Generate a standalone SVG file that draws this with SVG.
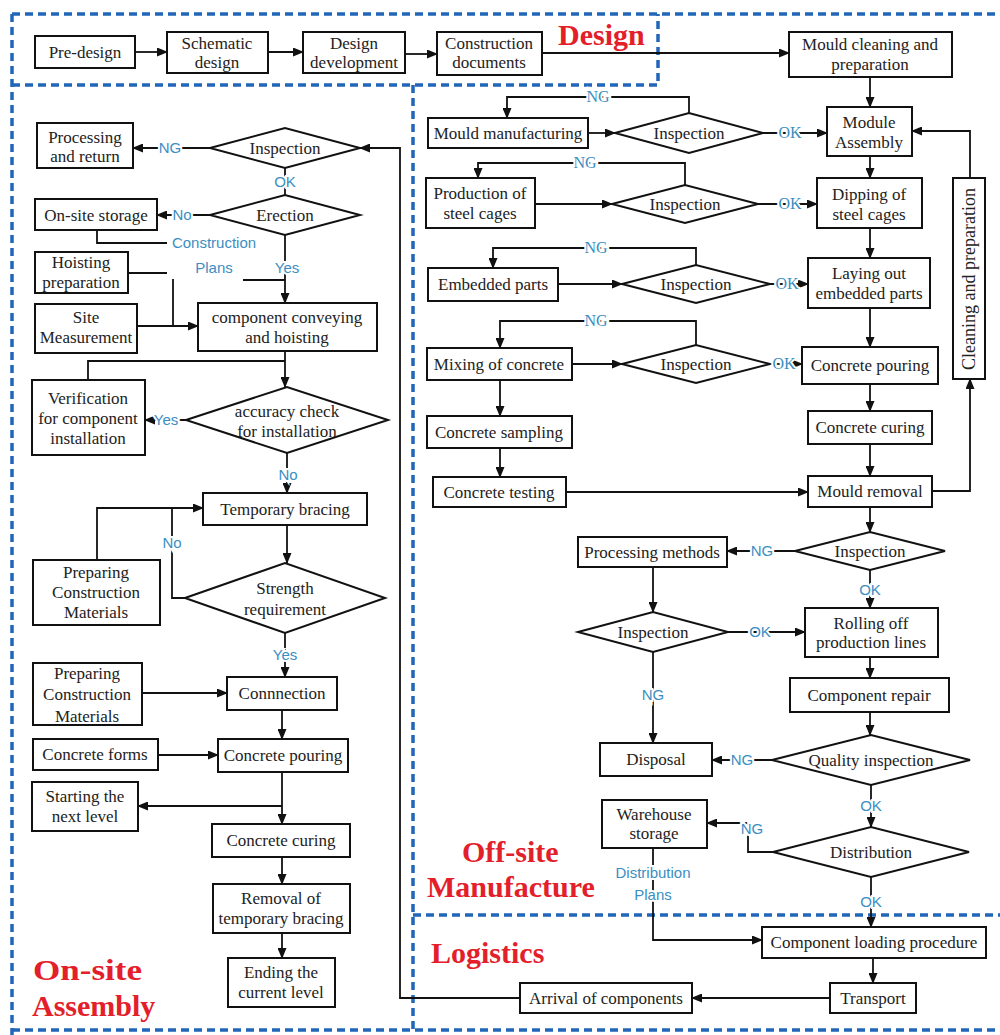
<svg xmlns="http://www.w3.org/2000/svg" width="1000" height="1035" viewBox="0 0 1000 1035">
<style>
.n rect, .n polygon { fill: #fff; stroke: #111; stroke-width: 2; }
.n text { font-family: "Liberation Serif", "Times New Roman", serif; font-size: 17px; fill: #222; text-anchor: middle; }
.c path { fill: none; stroke: #111; stroke-width: 1.8; }
.lbl { font-family: "Liberation Sans", Arial, sans-serif; font-size: 15px; fill: #3b8ec2; text-anchor: middle; paint-order: stroke; stroke: #fff; stroke-width: 4px; }
.lbs { font-family: "Liberation Serif", "Times New Roman", serif; font-size: 16px; fill: #3b8ec2; text-anchor: middle; paint-order: stroke; stroke: #fff; stroke-width: 4px; }
.zone { fill: none; stroke: #2166b8; stroke-width: 3.5; stroke-dasharray: 8 5; }
.title { font-family: "Liberation Serif", "Times New Roman", serif; font-size: 30px; font-weight: bold; fill: #e3202a; }
</style>
<defs>
<marker id="ah" markerUnits="userSpaceOnUse" markerWidth="11" markerHeight="9" refX="10" refY="4.5" orient="auto">
<path d="M0,0 L11,4.5 L0,9 z" fill="#111"/>
</marker>
</defs>
<rect x="0" y="0" width="1000" height="1035" fill="#fff"/>

<g id="zones">
<path class="zone" d="M12,14 H1000"/>
<path class="zone" d="M12,14 V1035"/>
<path class="zone" d="M12,85 H658 V14"/>
<path class="zone" d="M413,85 V1030"/>
<path class="zone" d="M413,915 H1000"/>
<path class="zone" d="M12,1030 H1000"/>
<text class="title" x="558" y="45">Design</text>
<text class="title" x="33" y="980" textLength="109" lengthAdjust="spacingAndGlyphs">On-site</text>
<text class="title" x="32" y="1016">Assembly</text>
<text class="title" x="462" y="862">Off-site</text>
<text class="title" x="427" y="897">Manufacture</text>
<text class="title" x="431" y="963">Logistics</text>
</g>

<g id="connectors" class="c">
<path d="M135,52 H167" marker-end="url(#ah)"/>
<path d="M268,52 H303" marker-end="url(#ah)"/>
<path d="M405,54 H437" marker-end="url(#ah)"/>
<path d="M542,53 H789" marker-end="url(#ah)"/>
<path d="M870,77 V107" marker-end="url(#ah)"/>
<path d="M870,156 V178" marker-end="url(#ah)"/>
<path d="M870,228 V258" marker-end="url(#ah)"/>
<path d="M870,308 V347" marker-end="url(#ah)"/>
<path d="M870,384 V411" marker-end="url(#ah)"/>
<path d="M870,444 V476" marker-end="url(#ah)"/>
<path d="M870,507 V532" marker-end="url(#ah)"/>
<path d="M932,491 H970 V379" marker-end="url(#ah)"/>
<path d="M970,178 V131 H912" marker-end="url(#ah)"/>
<path d="M588,133 H615" marker-end="url(#ah)"/>
<path d="M689,113 V97 H507 V118" marker-end="url(#ah)"/>
<path d="M763,133 H827" marker-end="url(#ah)"/>
<path d="M535,204 H612" marker-end="url(#ah)"/>
<path d="M685,185 V163 H478 V178" marker-end="url(#ah)"/>
<path d="M758,204 H817" marker-end="url(#ah)"/>
<path d="M558,284 H622" marker-end="url(#ah)"/>
<path d="M696,265 V248 H493 V268" marker-end="url(#ah)"/>
<path d="M770,284 H808" marker-end="url(#ah)"/>
<path d="M572,364 H622" marker-end="url(#ah)"/>
<path d="M696,345 V321 H500 V348" marker-end="url(#ah)"/>
<path d="M770,364 H802" marker-end="url(#ah)"/>
<path d="M500,380 V416" marker-end="url(#ah)"/>
<path d="M500,448 V477" marker-end="url(#ah)"/>
<path d="M566,492 H808" marker-end="url(#ah)"/>
<path d="M795,551 H727" marker-end="url(#ah)"/>
<path d="M653,567 V612" marker-end="url(#ah)"/>
<path d="M870,570 V608" marker-end="url(#ah)"/>
<path d="M728,632 H805" marker-end="url(#ah)"/>
<path d="M870,657 V678" marker-end="url(#ah)"/>
<path d="M870,712 V735" marker-end="url(#ah)"/>
<path d="M653,652 V743" marker-end="url(#ah)"/>
<path d="M772,760 H712" marker-end="url(#ah)"/>
<path d="M871,785 V827" marker-end="url(#ah)"/>
<path d="M773,852 H748 V823 H707" marker-end="url(#ah)"/>
<path d="M871,877 V927" marker-end="url(#ah)"/>
<path d="M653,848 V940 H762" marker-end="url(#ah)"/>
<path d="M873,958 V983" marker-end="url(#ah)"/>
<path d="M830,998 H692" marker-end="url(#ah)"/>
<path d="M520,998 H400 V148 H360" marker-end="url(#ah)"/>
<path d="M210,148 H133" marker-end="url(#ah)"/>
<path d="M285,168 V195"/>
<path d="M210,215 H157" marker-end="url(#ah)"/>
<path d="M97,230 V243 H167"/>
<path d="M243,280 H285"/>
<path d="M285,235 V303" marker-end="url(#ah)"/>
<path d="M128,273 H167"/>
<path d="M173,279 V326"/>
<path d="M137,326 H198" marker-end="url(#ah)"/>
<path d="M285,351 V387" marker-end="url(#ah)"/>
<path d="M88,380 V361 H285"/>
<path d="M186,420 H145" marker-end="url(#ah)"/>
<path d="M287,453 V493" marker-end="url(#ah)"/>
<path d="M287,525 V563" marker-end="url(#ah)"/>
<path d="M185,598 H172 V508 H203" marker-end="url(#ah)"/>
<path d="M97,560 V508 H172"/>
<path d="M285,633 V677" marker-end="url(#ah)"/>
<path d="M142,693 H227" marker-end="url(#ah)"/>
<path d="M282,710 V739" marker-end="url(#ah)"/>
<path d="M158,755 H218" marker-end="url(#ah)"/>
<path d="M282,772 V824" marker-end="url(#ah)"/>
<path d="M282,806 H138" marker-end="url(#ah)"/>
<path d="M282,857 V884" marker-end="url(#ah)"/>
<path d="M282,933 V958" marker-end="url(#ah)"/>
</g>

<g id="labels">
<text class="lbl" x="170" y="153">NG</text>
<text class="lbl" x="285" y="187">OK</text>
<text class="lbl" x="182" y="220">No</text>
<text class="lbl" x="214" y="248">Construction</text>
<text class="lbl" x="214" y="273">Plans</text>
<text class="lbl" x="287" y="273">Yes</text>
<text class="lbl" x="166" y="425">Yes</text>
<text class="lbl" x="288" y="480">No</text>
<text class="lbl" x="172" y="548">No</text>
<text class="lbl" x="285" y="660">Yes</text>
<text class="lbs" x="598" y="102">NG</text>
<text class="lbs" x="790" y="138">OK</text>
<text class="lbs" x="585" y="168">NG</text>
<text class="lbs" x="790" y="209">OK</text>
<text class="lbs" x="596" y="253">NG</text>
<text class="lbs" x="787" y="289">OK</text>
<text class="lbs" x="596" y="326">NG</text>
<text class="lbs" x="784" y="369">OK</text>
<text class="lbl" x="762" y="556">NG</text>
<text class="lbl" x="870" y="595">OK</text>
<text class="lbl" x="760" y="637">OK</text>
<text class="lbl" x="653" y="700">NG</text>
<text class="lbl" x="742" y="765">NG</text>
<text class="lbl" x="871" y="811">OK</text>
<text class="lbl" x="752" y="834">NG</text>
<text class="lbl" x="653" y="878">Distribution</text>
<text class="lbl" x="653" y="900">Plans</text>
<text class="lbl" x="871" y="907">OK</text>
</g>

<g id="n-predesign" class="n"><rect x="35" y="36" width="100" height="32"/><text x="85" y="58">Pre-design</text></g>
<g id="n-schematic" class="n"><rect x="167" y="32" width="101" height="41"/><text x="217" y="49">Schematic</text><text x="217" y="68">design</text></g>
<g id="n-designdev" class="n"><rect x="303" y="32" width="102" height="41"/><text x="354" y="49">Design</text><text x="354" y="68">development</text></g>
<g id="n-constdocs" class="n"><rect x="437" y="32" width="105" height="43"/><text x="489" y="49">Construction</text><text x="489" y="68">documents</text></g>
<g id="n-mouldclean" class="n"><rect x="789" y="32" width="163" height="45"/><text x="870" y="50">Mould cleaning and</text><text x="870" y="70">preparation</text></g>

<g id="n-moduleasm" class="n"><rect x="827" y="107" width="85" height="49"/><text x="869" y="128">Module</text><text x="869" y="148">Assembly</text></g>
<g id="n-dipping" class="n"><rect x="817" y="178" width="105" height="50"/><text x="869" y="200">Dipping of</text><text x="869" y="220">steel cages</text></g>
<g id="n-laying" class="n"><rect x="808" y="258" width="122" height="50"/><text x="869" y="279">Laying out</text><text x="869" y="299">embedded parts</text></g>
<g id="n-cpour-off" class="n"><rect x="802" y="347" width="136" height="37"/><text x="870" y="371">Concrete pouring</text></g>
<g id="n-ccure-off" class="n"><rect x="808" y="411" width="124" height="33"/><text x="870" y="433">Concrete curing</text></g>
<g id="n-mouldrem" class="n"><rect x="808" y="476" width="124" height="31"/><text x="870" y="497">Mould removal</text></g>
<g id="n-cleanprep" class="n"><rect x="953" y="178" width="32" height="201"/><text x="969" y="285" transform="rotate(-90 969 279)" style="font-size:18px">Cleaning and preparation</text></g>

<g id="n-mouldmfg" class="n"><rect x="428" y="118" width="160" height="30"/><text x="508" y="139">Mould manufacturing</text></g>
<g id="n-insp1" class="n"><polygon points="615,133 689,113 763,133 689,153"/><text x="689" y="139">Inspection</text></g>
<g id="n-steelcage" class="n"><rect x="426" y="178" width="109" height="50"/><text x="480" y="199">Production of</text><text x="480" y="219">steel cages</text></g>
<g id="n-insp2" class="n"><polygon points="612,204 685,185 758,204 685,223"/><text x="685" y="210">Inspection</text></g>
<g id="n-embedded" class="n"><rect x="428" y="268" width="130" height="33"/><text x="493" y="290">Embedded parts</text></g>
<g id="n-insp3" class="n"><polygon points="622,284 696,265 770,284 696,303"/><text x="696" y="290">Inspection</text></g>
<g id="n-mixing" class="n"><rect x="427" y="348" width="145" height="32"/><text x="499" y="370">Mixing of concrete</text></g>
<g id="n-insp4" class="n"><polygon points="622,364 696,345 770,364 696,383"/><text x="696" y="370">Inspection</text></g>
<g id="n-sampling" class="n"><rect x="427" y="416" width="145" height="32"/><text x="499" y="438">Concrete sampling</text></g>
<g id="n-testing" class="n"><rect x="433" y="477" width="133" height="30"/><text x="499" y="498">Concrete testing</text></g>

<g id="n-insp5" class="n"><polygon points="795,551 870,532 945,551 870,570"/><text x="870" y="557">Inspection</text></g>
<g id="n-procmethods" class="n"><rect x="578" y="537" width="149" height="30"/><text x="652" y="558">Processing methods</text></g>
<g id="n-insp6" class="n"><polygon points="578,632 653,612 728,632 653,652"/><text x="653" y="638">Inspection</text></g>
<g id="n-rolling" class="n"><rect x="805" y="608" width="133" height="49"/><text x="871" y="629">Rolling off</text><text x="871" y="648">production lines</text></g>
<g id="n-repair" class="n"><rect x="790" y="678" width="159" height="34"/><text x="869" y="701">Component repair</text></g>
<g id="n-quality" class="n"><polygon points="772,760 871,735 970,760 871,785"/><text x="871" y="766">Quality inspection</text></g>
<g id="n-disposal" class="n"><rect x="600" y="743" width="112" height="33"/><text x="656" y="765">Disposal</text></g>
<g id="n-distribution" class="n"><polygon points="773,852 871,827 969,852 871,877"/><text x="871" y="858">Distribution</text></g>
<g id="n-warehouse" class="n"><rect x="602" y="800" width="105" height="48"/><text x="654" y="820">Warehouse</text><text x="654" y="839">storage</text></g>

<g id="n-loading" class="n"><rect x="762" y="927" width="224" height="31"/><text x="874" y="948">Component loading procedure</text></g>
<g id="n-transport" class="n"><rect x="830" y="983" width="86" height="30"/><text x="873" y="1004">Transport</text></g>
<g id="n-arrival" class="n"><rect x="520" y="983" width="172" height="30"/><text x="606" y="1004">Arrival of components</text></g>

<g id="n-insp-on" class="n"><polygon points="210,148 285,128 360,148 285,168"/><text x="285" y="154">Inspection</text></g>
<g id="n-procreturn" class="n"><rect x="37" y="123" width="96" height="45"/><text x="85" y="143">Processing</text><text x="85" y="162">and return</text></g>
<g id="n-erection" class="n"><polygon points="210,215 285,195 360,215 285,235"/><text x="285" y="221">Erection</text></g>
<g id="n-onsitestorage" class="n"><rect x="35" y="199" width="122" height="31"/><text x="96" y="221">On-site storage</text></g>
<g id="n-hoistprep" class="n"><rect x="35" y="252" width="93" height="41"/><text x="81" y="268">Hoisting</text><text x="81" y="288">preparation</text></g>
<g id="n-sitemeas" class="n"><rect x="35" y="304" width="102" height="49"/><text x="86" y="323">Site</text><text x="86" y="343">Measurement</text></g>
<g id="n-conveying" class="n"><rect x="198" y="303" width="179" height="48"/><text x="287" y="323">component conveying</text><text x="287" y="343">and hoisting</text></g>
<g id="n-accuracy" class="n"><polygon points="186,420 287,387 388,420 287,453"/><text x="287" y="417">accuracy check</text><text x="287" y="437">for installation</text></g>
<g id="n-verification" class="n"><rect x="32" y="380" width="113" height="75"/><text x="88" y="404">Verification</text><text x="88" y="424">for component</text><text x="88" y="444">installation</text></g>
<g id="n-tempbrace" class="n"><rect x="203" y="493" width="164" height="32"/><text x="285" y="515">Temporary bracing</text></g>
<g id="n-prepmat1" class="n"><rect x="33" y="560" width="127" height="65"/><text x="96" y="578">Preparing</text><text x="96" y="598">Construction</text><text x="96" y="618">Materials</text></g>
<g id="n-strength" class="n"><polygon points="185,598 285,563 385,598 285,633"/><text x="285" y="594">Strength</text><text x="285" y="615">requirement</text></g>
<g id="n-prepmat2" class="n"><rect x="33" y="663" width="109" height="62"/><text x="87" y="679">Preparing</text><text x="87" y="700">Construction</text><text x="87" y="722">Materials</text></g>
<g id="n-connection" class="n"><rect x="227" y="677" width="110" height="33"/><text x="282" y="699">Connnection</text></g>
<g id="n-forms" class="n"><rect x="33" y="739" width="125" height="31"/><text x="95" y="760">Concrete forms</text></g>
<g id="n-cpour-on" class="n"><rect x="218" y="739" width="130" height="33"/><text x="283" y="761">Concrete pouring</text></g>
<g id="n-nextlevel" class="n"><rect x="32" y="782" width="106" height="49"/><text x="85" y="802">Starting the</text><text x="85" y="822">next level</text></g>
<g id="n-ccure-on" class="n"><rect x="212" y="824" width="138" height="33"/><text x="281" y="846">Concrete curing</text></g>
<g id="n-removal" class="n"><rect x="213" y="884" width="137" height="49"/><text x="281" y="904">Removal of</text><text x="281" y="924">temporary bracing</text></g>
<g id="n-ending" class="n"><rect x="228" y="958" width="107" height="49"/><text x="281" y="978">Ending the</text><text x="281" y="998">current level</text></g>
</svg>
